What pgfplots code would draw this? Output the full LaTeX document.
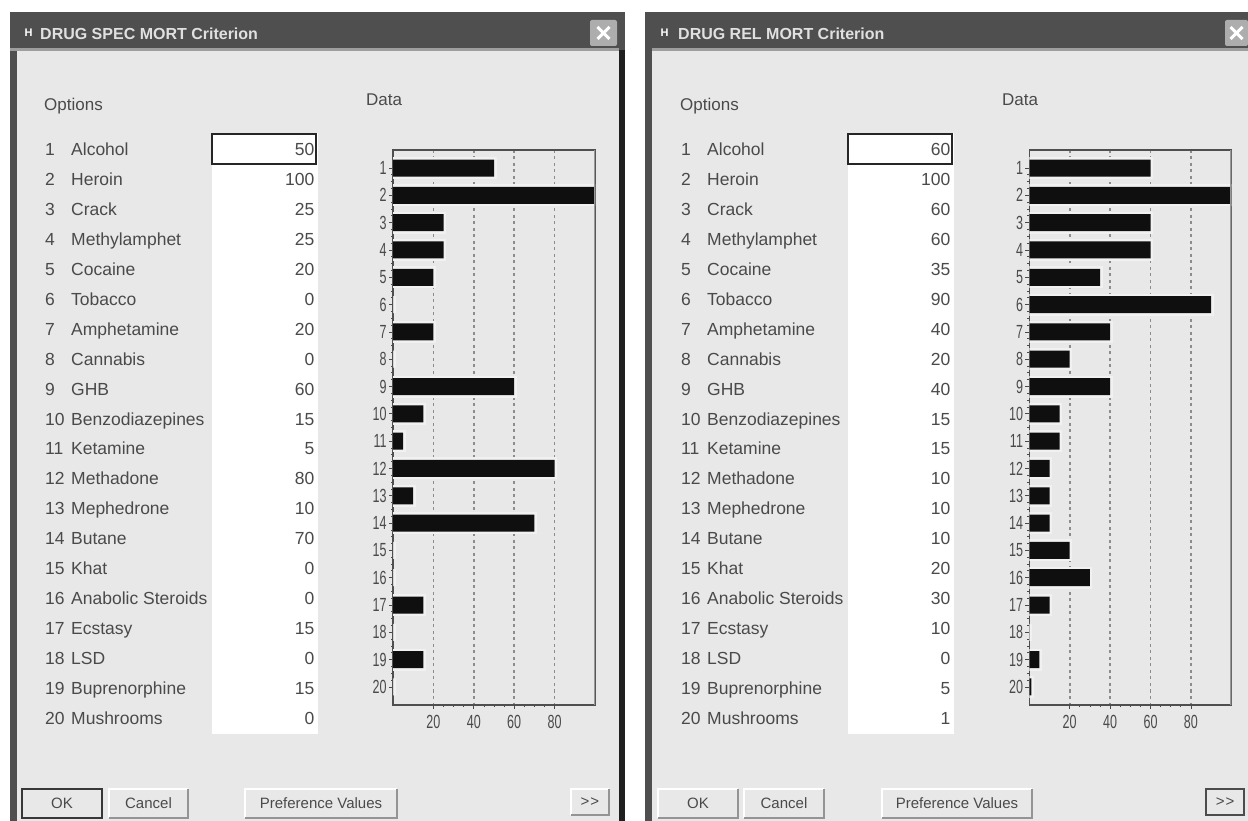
\documentclass[border=0pt]{standalone}
\usepackage{fontspec}
\setmainfont{Liberation Sans}
\usepackage{pgfplots}
\usepackage{pgfplotstable}
\pgfplotsset{compat=1.18}

\definecolor{client}{HTML}{E8E8E8}
\definecolor{frame}{HTML}{4F4F4F}
\definecolor{txt}{HTML}{4A4A4A}
\definecolor{halo}{HTML}{F1F1F1}
\definecolor{gridc}{HTML}{8C8C8C}
\definecolor{barc}{HTML}{0F0F0F}

\pgfplotstableread{
id spec rel
1 50 60
2 100 100
3 25 60
4 25 60
5 20 35
6 0 90
7 20 40
8 0 20
9 60 40
10 15 15
11 5 15
12 80 10
13 10 10
14 70 10
15 0 20
16 0 30
17 15 10
18 0 0
19 15 5
20 0 1
}\drugdata

\pgfplotsset{
  dialog/.style={
    anchor=south west, scale only axis, width=202pt, height=555pt,
    xmin=0, xmax=100, ymin=0.34, ymax=20.66, y dir=reverse,
    xtick={20,40,60,80}, ytick={1,...,20},
    minor x tick num=3, minor y tick num=3,
    tickpos=left, tick align=outside,
    major tick length=4pt, minor tick length=2pt,
    tick style={color=txt, line width=0.8pt},
    axis line style={color=frame, line width=1.4pt},
    xmajorgrids=true,
    grid style={color=gridc, line width=1.6pt, dash pattern=on 3pt off 3.5pt},
    /pgf/number format/assume math mode=true,
    tick label style={font=\fontsize{19}{19}\selectfont, xscale=0.66, text=txt},
    xticklabel style={yshift=-3pt},
    yticklabel style={xshift=0pt},
    xbar, bar width=17pt, bar shift=0pt,
  },
  haloplot/.style={xbar, bar width=17pt, bar shift=0pt, fill=halo, draw=halo, line width=5pt, forget plot},
  blackbar/.style={xbar, bar width=17pt, bar shift=0pt, fill=barc, draw=none},
}

\newcommand{\btn}[6][client]{%
  \fill[#1] (#2,#3) rectangle (#4,#5);
  \draw[white, line width=1.5pt] (#2,#5) -- (#2,#3) -- (#4,#3);
  \draw[black!42, line width=2pt] (#2,#5) -- (#4,#5) -- (#4,#3);
  \node[text=txt, font=\fontsize{15}{15}\selectfont] at ({(#2+#4)/2},{(#3+#5)/2}) {#6};
}
\newcommand{\closebtn}[2]{%
  \fill[black!32, rounded corners=2pt] (#1,20) rectangle (#2,46);
  \draw[white, line width=3pt] ({(#1+#2)/2-6},27) -- ({(#1+#2)/2+6},39);
  \draw[white, line width=3pt] ({(#1+#2)/2-6},39) -- ({(#1+#2)/2+6},27);
}

\begin{document}
\begin{tikzpicture}[x=1pt, y=1pt]
\fill[white] (0,0) rectangle (1248,821);
\path[use as bounding box] (0,0) rectangle (1248,821);

\begin{scope}[shift={(0,821)}, yscale=-1]
  % left window
  \fill[frame] (10,12) rectangle (625,821);
  \fill[client] (17,50) rectangle (619,821);
  \fill[black!88] (619,50) rectangle (625,821);
  \fill[black!38] (10,48) rectangle (619,51);
  % right window
  \fill[frame] (645,12) rectangle (1248,821);
  \fill[client] (652,50) rectangle (1248,821);
  \fill[black!38] (652,48) rectangle (1248,51);
  \closebtn{590}{617}
  \closebtn{1225}{1248}
  % titles
  \node[anchor=west, text=white, font=\bfseries\fontsize{11}{11}\selectfont] at (21,33) {H};
  \node[anchor=west, text=white, font=\bfseries\fontsize{11}{11}\selectfont] at (657,33) {H};
  \node[anchor=west, inner sep=0pt, text=black!12, font=\bfseries\fontsize{16}{16}\selectfont] at (40,34) {DRUG SPEC MORT Criterion};
  \node[anchor=west, inner sep=0pt, text=black!12, font=\bfseries\fontsize{16}{16}\selectfont] at (678,34) {DRUG REL MORT Criterion};
  % headings
  \node[anchor=west, inner sep=0pt, text=txt, font=\fontsize{17}{17}\selectfont] at (44,106) {Options};
  \node[anchor=west, inner sep=0pt, text=txt, font=\fontsize{17}{17}\selectfont] at (680,106) {Options};
  \node[anchor=west, inner sep=0pt, text=txt, font=\fontsize{17}{17}\selectfont] at (366,100) {Data};
  \node[anchor=west, inner sep=0pt, text=txt, font=\fontsize{17}{17}\selectfont] at (1002,100) {Data};
  % value columns
  \fill[white] (212,133) rectangle (318,734);
  \fill[white] (848,133) rectangle (954,734);
  \draw[black!85, line width=2.2pt] (212,134) rectangle (316,164);
  \draw[black!85, line width=2.2pt] (848,134) rectangle (952,164);
  % option rows
  \foreach \i/\nm/\a/\b in {1/Alcohol/50/60, 2/Heroin/100/100, 3/Crack/25/60, 4/Methylamphet/25/60,
      5/Cocaine/20/35, 6/Tobacco/0/90, 7/Amphetamine/20/40, 8/Cannabis/0/20, 9/GHB/60/40,
      10/Benzodiazepines/15/15, 11/Ketamine/5/15, 12/Methadone/80/10, 13/Mephedrone/10/10,
      14/Butane/70/10, 15/Khat/0/20, 16/Anabolic Steroids/0/30, 17/Ecstasy/15/10, 18/LSD/0/0,
      19/Buprenorphine/15/5, 20/Mushrooms/0/1} {
    \pgfmathsetmacro{\yy}{149+(\i-1)*29.95}
    \foreach \off/\val in {0/\a, 636/\b} {
      \node[anchor=base west, inner sep=0pt, text=txt, font=\fontsize{17.5}{17.5}\selectfont] at ({45+\off},{\yy+6.5}) {\i};
      \node[anchor=base west, inner sep=0pt, text=txt, font=\fontsize{17.5}{17.5}\selectfont] at ({71+\off},{\yy+6.5}) {\nm};
      \node[anchor=base east, inner sep=0pt, text=txt, font=\fontsize{17.5}{17.5}\selectfont] at ({314.5+\off},{\yy+6.5}) {\val};
    }
  }
  % buttons
  \btn{22}{789}{102}{818}{OK}
  \draw[black!78, line width=1.6pt] (22,789) rectangle (102,818);
  \btn{109}{789}{188}{818}{Cancel}
  \btn{245}{789}{397}{818}{Preference Values}
  \btn{571}{789}{609}{815}{{>}\kern1pt{>}}
  \btn{658}{789}{738}{818}{OK}
  \btn{744}{789}{824}{818}{Cancel}
  \btn{882}{789}{1032}{818}{Preference Values}
  \btn{1206}{789}{1244}{815}{{>}\kern1pt{>}}
  \draw[black!70, line width=1.6pt] (1206,789) rectangle (1244,815);
\end{scope}

% left chart
\begin{axis}[dialog, at={(393pt,116pt)}]
\addplot[haloplot] table[x=spec, y=id] {\drugdata};
\addplot[blackbar] table[x=spec, y=id] {\drugdata};
\draw[black!40, line width=3pt] (axis cs:100,0.34) -- (axis cs:100,20.66);
\end{axis}

% right chart
\begin{axis}[dialog, at={(1029.3pt,116pt)}]
\addplot[haloplot] table[x=rel, y=id] {\drugdata};
\addplot[blackbar] table[x=rel, y=id] {\drugdata};
\draw[black!40, line width=3pt] (axis cs:100,0.34) -- (axis cs:100,20.66);
\end{axis}
\end{tikzpicture}
\end{document}
